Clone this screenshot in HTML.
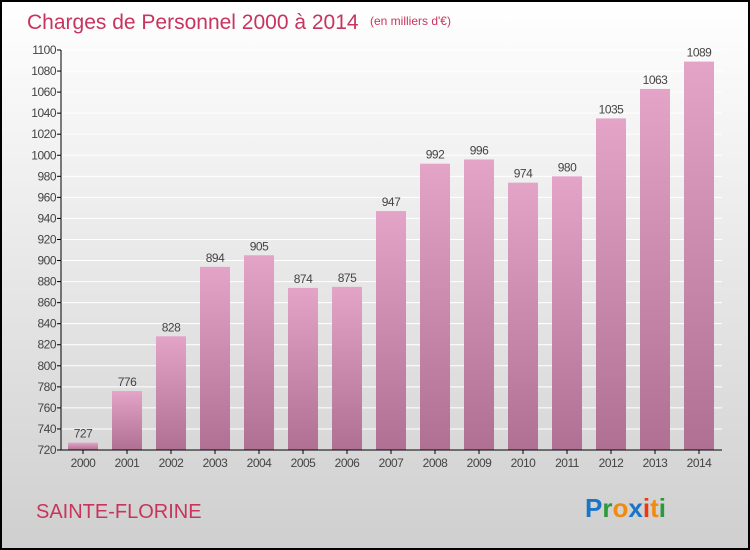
<!DOCTYPE html>
<html><head><meta charset="utf-8"><style>
body{margin:0}
#c{position:relative;width:746px;height:546px;border:2px solid #000;background:linear-gradient(#fff,#cfcfcf);font-family:"Liberation Sans",sans-serif;overflow:hidden}
</style></head><body>
<div id="c">
<svg width="746" height="546" id="s">
<defs><linearGradient id="g" x1="0" y1="0" x2="0" y2="1"><stop offset="0" stop-color="#e4a4c8"/><stop offset="1" stop-color="#b07094"/></linearGradient></defs>
<text x="25" y="27" font-size="21" fill="#c8345e">Charges de Personnel 2000 à 2014</text>
<text x="368" y="23" font-size="12" fill="#c8345e">(en milliers d'€)</text>
<text x="34" y="516" font-size="20" fill="#c8345e">SAINTE-FLORINE</text>
<g font-size="26" font-family="'Liberation Sans',sans-serif" font-weight="bold">
<text x="583" y="515"><tspan fill="#1a74c8">P</tspan><tspan fill="#2a9a3a">r</tspan><tspan fill="#f08a10">o</tspan><tspan fill="#1a74c8">x</tspan><tspan fill="#e83a10">i</tspan><tspan fill="#f08a10">t</tspan><tspan fill="#2a9a3a">i</tspan></text></g>
<g id="plot"></g>
</svg></div>
<script>
const categories=["2000","2001","2002","2003","2004","2005","2006","2007","2008","2009","2010","2011","2012","2013","2014"];
const values=[727,776,828,894,905,874,875,947,992,996,974,980,1035,1063,1089];
const yTicks=[720,740,760,780,800,820,840,860,880,900,920,940,960,980,1000,1020,1040,1060,1080,1100];
const yMin=720,yMax=1100,pTop=48,pBot=448,x0=59,step=44,bw=30;
const y=v=>pBot-(v-yMin)/(yMax-yMin)*(pBot-pTop);
const x=i=>x0+22+i*step;
const g=document.getElementById('plot');const NS='http://www.w3.org/2000/svg';
function mk(t,a,txt){const e=document.createElementNS(NS,t);for(const k in a)e.setAttribute(k,a[k]);if(txt!=null)e.textContent=txt;g.appendChild(e);return e;}
yTicks.forEach(v=>{
const l=mk('line',{x1:x0,x2:720,y1:y(v),y2:y(v),stroke:'#fff','stroke-width':1});


const t=mk('line',{x1:x0-4,x2:x0,y1:y(v),y2:y(v),stroke:'#000'});


const tx=mk('text',{x:x0-5,y:y(v)+4,'font-size':12,fill:'#444','text-anchor':'end','letter-spacing':'-0.5'},v);


});
categories.forEach((c,i)=>{
const r=mk('rect',{x:x(i)-bw/2,y:y(values[i]),width:bw,height:pBot-y(values[i]),fill:'url(#g)'});


const vl=mk('text',{x:x(i),y:y(values[i])-5,'font-size':12,fill:'#444','text-anchor':'middle','letter-spacing':'-0.5'},values[i]);


const tk=mk('line',{x1:x(i),x2:x(i),y1:pBot,y2:pBot+4,stroke:'#000'});


const xl=mk('text',{x:x(i),y:pBot+17,'font-size':12,fill:'#444','text-anchor':'middle','letter-spacing':'-0.5'},c);


});
const ya=mk('line',{x1:x0,x2:x0,y1:pTop,y2:pBot,stroke:'#000'});


const xa=mk('line',{x1:x0,x2:720,y1:pBot,y2:pBot,stroke:'#000'});


</script>
</body></html>
